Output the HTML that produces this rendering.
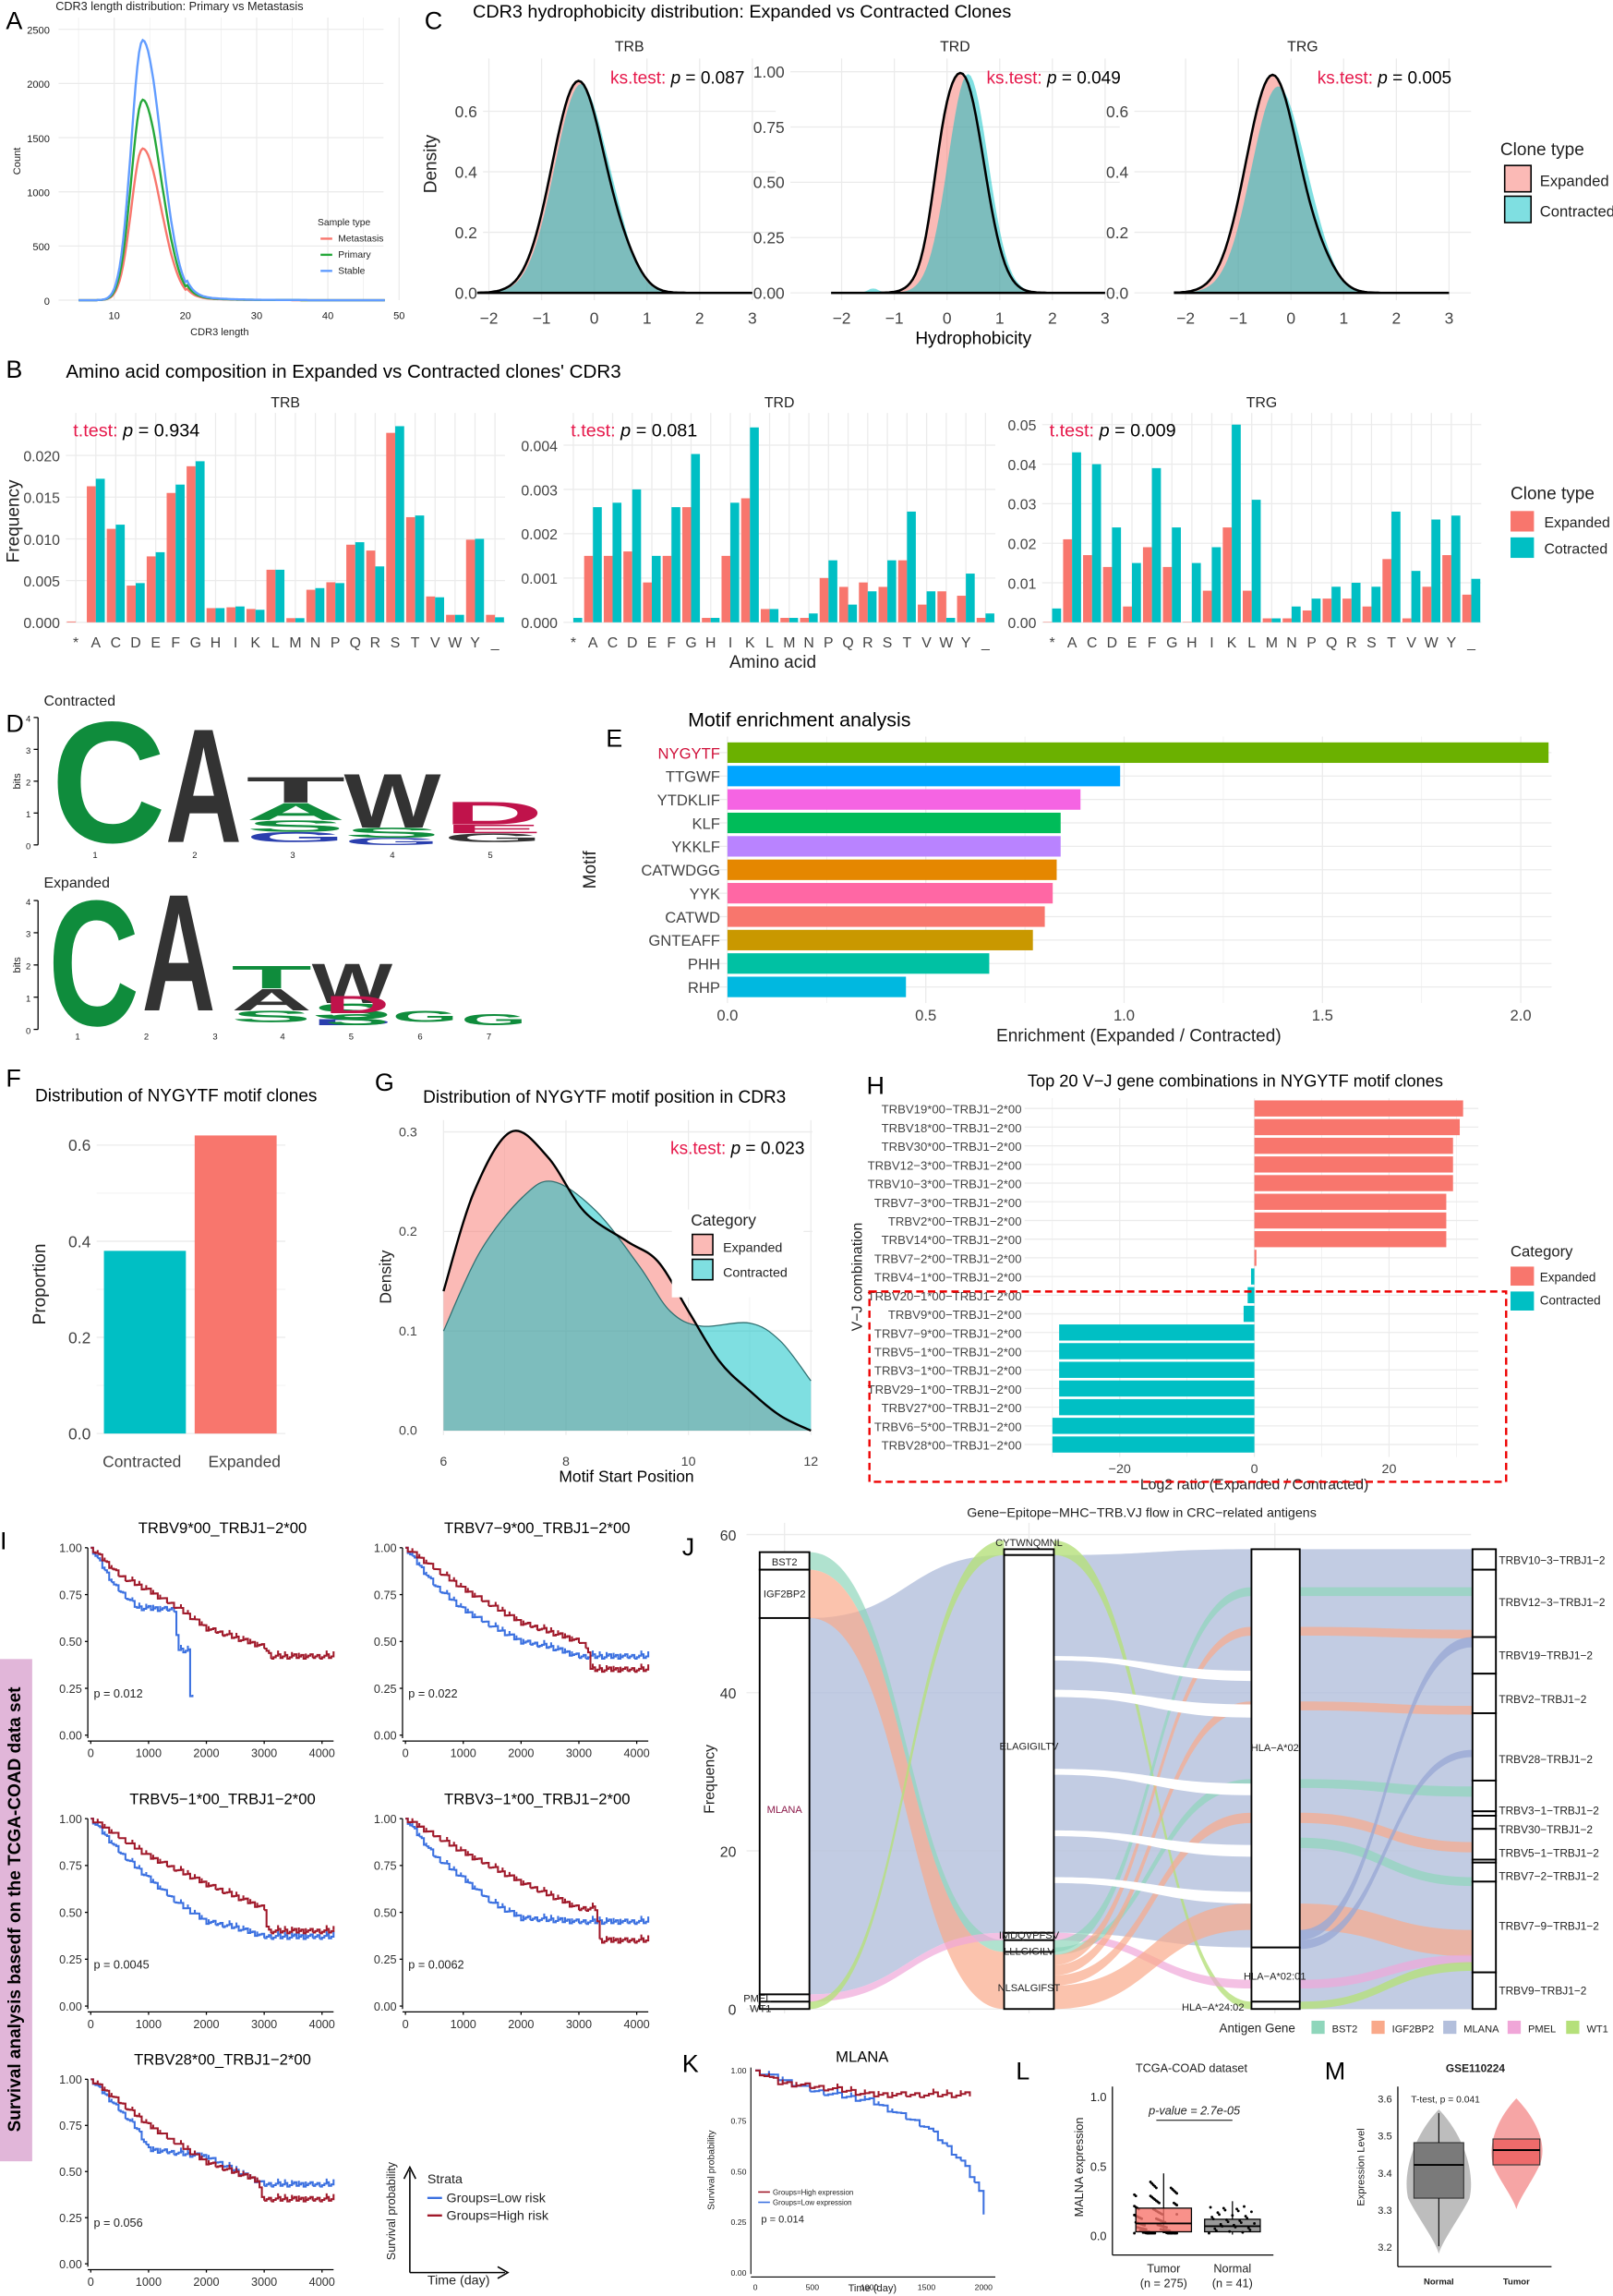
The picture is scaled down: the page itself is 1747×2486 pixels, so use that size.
<!DOCTYPE html>
<html><head><meta charset="utf-8"><style>
html,body{margin:0;padding:0;background:#fff}
svg{display:block}
text{font-family:"Liberation Sans",sans-serif}
</style></head><body>
<svg id="s" xmlns="http://www.w3.org/2000/svg" width="1747" height="2486" viewBox="0 0 1102 1568" preserveAspectRatio="none"></svg>
<script>
const NS="http://www.w3.org/2000/svg",S=document.getElementById('s');
function el(t,a,txt,par){const e=document.createElementNS(NS,t);for(const k in a)e.setAttribute(k,a[k]);if(txt!=null)e.textContent=txt;(par||S).appendChild(e);return e;}
function T(x,y,s,sz,o){o=o||{};return el('text',Object.assign({x:x,y:y,'font-size':sz,fill:o.fill||'#222','text-anchor':o.a||'start'},o.at||{}),s);}
function L(x1,y1,x2,y2,c,w,extra){return el('line',Object.assign({x1,y1,x2,y2,stroke:c||'#000','stroke-width':w||1},extra||{}));}
function R(x,y,w,h,f,extra){return el('rect',Object.assign({x,y,width:w,height:h,fill:f},extra||{}));}
function P(d,f,st,sw,extra){return el('path',Object.assign({d,fill:f||'none',stroke:st||'none','stroke-width':sw||1},extra||{}));}
function lin(v,v0,p0,v1,p1){return p0+(v-v0)*(p1-p0)/(v1-v0);}
const G='#ebebeb',RED='#F8766D',TEAL='#00BFC4';
function panel(l,x,y){T(x,y,l,17,{fill:'#000'});}

/* ---------- Panel A ---------- */
panel('A',4,20);
T(38,7,'CDR3 length distribution: Primary vs Metastasis',8);
{const X=v=>lin(v,10,78,40,224),Y=v=>lin(v,0,205,2500,20);
for(let v=0;v<=2500;v+=500){L(40,Y(v),262,Y(v),G,0.8);T(34,Y(v)+3,v,7,{a:'end'});}
for(let v=5;v<=50;v+=5)L(X(v),12,X(v),205,G,v%10?0.4:0.8);
for(let v=10;v<=50;v+=10)T(X(v),218,v,7,{a:'middle'});
T(150,229,'CDR3 length',7,{a:'middle'});
T(14,110,'Count',7,{a:'middle',at:{transform:'rotate(-90 14 110)'}});
const curve=(pk,c)=>{let d='';for(let v=5;v<=48;v+=0.25){const s=v<14?1.6:2.6;let y=pk*Math.exp(-Math.pow(v-14,2)/(2*s*s));if(v>20)y+=pk*0.02*Math.exp(-(v-20)/4);d+=(d?'L':'M')+X(v).toFixed(1)+','+Y(y).toFixed(1);}P(d,'none',c,1.5);};
curve(1400,'#F8766D');curve(1850,'#25a83a');curve(2400,'#619CFF');
T(217,154,'Sample type',6.5);
[['Metastasis','#F8766D'],['Primary','#25a83a'],['Stable','#619CFF']].forEach((a,i)=>{L(219,163+i*11,227,163+i*11,a[1],1.5);T(231,165+i*11,a[0],6.5);});
}

/* ---------- Panel C ---------- */
panel('C',290,20);
T(323,12,'CDR3 hydrophobicity distribution: Expanded vs Contracted Clones',12.5,{fill:'#000'});
function gauss(v,m,s,a){return a*Math.exp(-Math.pow(v-m,2)/(2*s*s));}
const facets=[
 {x0:330,x1:530,z:406,u:36,ymax:0.75,ys:[0,.2,.4,.6],lab:['0.0','0.2','0.4','0.6'],t:'TRB',p:'0.087',px:417,e:[[-0.3,0.5,0.7],[0.6,0.3,0.05]],c:[[-0.25,0.5,0.69],[0.5,0.25,0.05]]},
 {x0:540,x1:765,z:647,u:36,ymax:1.0,ys:[0,.25,.5,.75,1],lab:['0.00','0.25','0.50','0.75','1.00'],t:'TRD',p:'0.049',px:674,e:[[0.3,0.4,0.97],[-0.1,0.2,0.15]],c:[[0.4,0.38,0.99],[-1.4,0.1,0.02]]},
 {x0:775,x1:1005,z:882,u:36,ymax:0.75,ys:[0,.2,.4,.6],lab:['0.0','0.2','0.4','0.6'],t:'TRG',p:'0.005',px:900,e:[[-0.35,0.5,0.72],[0.6,0.3,0.05]],c:[[-0.25,0.5,0.68],[0.5,0.3,0.05]]}];
facets.forEach(f=>{
 const Y=v=>lin(v,0,200,f.ymax,f.ymax==1?49:45);
 f.ys.forEach((v,i)=>{L(f.x0,Y(v),f.x1,Y(v),G,0.8);T(f.x0-4,Y(v)+4,f.lab[i],11,{a:'end',fill:'#444'});});
 for(let v=-2;v<=3;v++){const x=f.z+v*f.u;L(x,40,x,205,G,0.8);T(x,221,v==0?'0':(v<0?'−'+(-v):v),11,{a:'middle',fill:'#444'});}
 T((f.x0+f.x1)/2,35,f.t,10,{a:'middle'});
 el('text',{x:f.px,y:57,'font-size':12},null).innerHTML='<tspan fill="#e6194b">ks.test: </tspan><tspan font-style="italic">p</tspan> = '+f.p;
 const dens=(arr,v)=>arr.reduce((s,g)=>s+gauss(v,g[0],g[1],g[2]),0);
 const path=arr=>{let d='M'+(f.z-2.2*f.u)+','+Y(0);for(let v=-2.2;v<=3.0;v+=0.05){d+='L'+(f.z+v*f.u).toFixed(1)+','+Y(dens(arr,v)).toFixed(1);}return d+'L'+(f.z+3*f.u)+','+Y(0)+'Z';};
 P(path(f.e),'#F8766D','none',1,{'fill-opacity':0.5});
 P(path(f.c),'#00BFC4','none',1,{'fill-opacity':0.5});
 P(path(f.e),'none','#000',1.6);
});
T(308,122,'Density',12,{a:'middle',at:{transform:'rotate(-90 298 122)'}});
T(665,235,'Hydrophobicity',12,{a:'middle',fill:'#000'});
T(1025,106,'Clone type',12);
R(1028,113,18,18,'#F8766D',{'fill-opacity':0.5,stroke:'#000'});T(1052,127,'Expanded',10.5);
R(1028,134,18,18,'#00BFC4',{'fill-opacity':0.5,stroke:'#000'});T(1052,148,'Contracted',10.5);

/* ---------- Panel B ---------- */
panel('B',4,258);
T(45,258,"Amino acid composition in Expanded vs Contracted clones' CDR3",13,{fill:'#000'});
const AA=['*','A','C','D','E','F','G','H','I','K','L','M','N','P','Q','R','S','T','V','W','Y','_'];
const bf=[
 {x0:45,x1:345,t:'TRB',p:'0.934',ymax:0.02,ytop:311,ys:[0,.005,.01,.015,.02],lab:['0.000','0.005','0.010','0.015','0.020'],
  r:[.0001,.0163,.0112,.0044,.0079,.0155,.0187,.0017,.0018,.0016,.0063,.0005,.0039,.0048,.0093,.0086,.0227,.0126,.0031,.0009,.0099,.0009],
  c:[0,.0172,.0117,.0047,.0084,.0165,.0193,.0017,.0019,.0015,.0063,.0005,.0041,.0047,.0096,.0067,.0235,.0128,.003,.0009,.01,.0006]},
 {x0:385,x1:680,t:'TRD',p:'0.081',ymax:0.004,ytop:304,ys:[0,.001,.002,.003,.004],lab:['0.000','0.001','0.002','0.003','0.004'],
  r:[0,.0015,.0015,.0016,.0009,.0015,.0026,.0001,.0015,.0028,.0003,.0001,.0001,.001,.0008,.0009,.0008,.0014,.0004,.0007,.0006,.0001],
  c:[.0001,.0026,.0027,.003,.0015,.0026,.0038,.0001,.0027,.0044,.0003,.0001,.0002,.0014,.0004,.0007,.0014,.0025,.0007,.0001,.0011,.0002]},
 {x0:712,x1:1012,t:'TRG',p:'0.009',ymax:0.05,ytop:290,ys:[0,.01,.02,.03,.04,.05],lab:['0.00','0.01','0.02','0.03','0.04','0.05'],
  r:[.0001,.021,.017,.014,.004,.019,.014,.0001,.008,.024,.008,.001,.001,.003,.006,.006,.004,.016,.001,.009,.017,.007],
  c:[.0035,.043,.040,.024,.015,.039,.024,.015,.019,.050,.031,.001,.004,.006,.009,.01,.009,.028,.013,.026,.027,.011]}];
bf.forEach(f=>{
 const Y=v=>lin(v,0,425,f.ymax,f.ytop);const step=(f.x1-f.x0)/22;
 f.ys.forEach((v,i)=>{L(f.x0,Y(v),f.x1,Y(v),G,0.8);T(f.x0-4,Y(v)+4,f.lab[i],10,{a:'end',fill:'#444'});});
 AA.forEach((a,i)=>{const cx=f.x0+step*(i+0.5);L(cx,282,cx,425,G,0.8);T(cx,442,a,10,{a:'middle',fill:'#444'});
  R(cx-step*0.45,Y(f.r[i]),step*0.45,425-Y(f.r[i]),RED);R(cx,Y(f.c[i]),step*0.45,425-Y(f.c[i]),TEAL);});
 T((f.x0+f.x1)/2,278,f.t,10,{a:'middle'});
 el('text',{x:f.x0+5,y:298,'font-size':12.5},null).innerHTML='<tspan fill="#e6194b">t.test: </tspan><tspan font-style="italic">p</tspan> = '+f.p;
});
T(13,356,'Frequency',12,{a:'middle',at:{transform:'rotate(-90 13 356)'}});
T(528,456,'Amino acid',12,{a:'middle'});
T(1032,341,'Clone type',12);
R(1032,349,16,14,RED);T(1055,360,'Expanded',10);
R(1032,367,16,14,TEAL);T(1055,378,'Cotracted',10);

/* ---------- Panel D (logos) ---------- */
panel('D',4,500);
T(30,482,'Contracted',10);T(30,606,'Expanded',10);
function axisLogo(y0,y1,lab){L(26,y0,26,y1,'#000',0.8);[0,1,2,3,4].forEach(i=>{const y=lin(i,0,y1,4,y0);L(23,y,26,y,'#000',0.8);T(21,y+3,i,6,{a:'end'});});T(14,(y0+y1)/2,'bits',7,{a:'middle',at:{transform:'rotate(-90 14 '+((y0+y1)/2)+')'}});}
axisLogo(490,577,0);axisLogo(615,703,0);
const CW={C:.72,A:.72,T:.61,W:.94,D:.72,S:.67,G:.78,Q:.78,N:.72,E:.67,K:.72};
function letter(ch,col,x,yb,w,h){const fs=100;const sx=w/((CW[ch]||.7)*fs),sy=h/(0.72*fs);el('text',{x:0,y:0,'font-size':fs,'font-weight':'bold',fill:col,transform:`translate(${x},${yb}) scale(${sx},${sy})`},ch);}
const GR='#0f8c3c',DK='#333',RD='#c0134b',BL='#2a3fae';
letter('C',GR,35,575,78,85);letter('A',DK,113,575,52,80);
letter('T',DK,168,548,68,18);letter('A',GR,168,560,68,12);letter('S',GR,168,568,68,8);letter('G',BL,168,575,68,7);
letter('W',DK,235,565,66,38);letter('S',GR,235,572,66,7);letter('G',BL,235,577,66,5);
letter('D',RD,303,563,68,16);letter('E',RD,303,569,68,6);letter('G',DK,303,575,68,6);
[65,133,200,268,335].forEach((x,i)=>T(x,586,i+1,6,{a:'middle'}));
letter('C',GR,33,700,62,88);letter('A',DK,97,690,50,82);
letter('T',GR,158,675,55,16);letter('A',DK,158,690,55,15);letter('S',GR,158,698,55,8);
letter('W',DK,213,685,55,28);letter('S',GR,213,696,55,11);letter('D',BL,213,700,55,4);
letter('D',RD,222,692,44,12);letter('S',GR,222,700,44,8);
letter('G',GR,268,698,45,8);letter('G',GR,315,700,45,8);
[53,100,147,193,240,287,334].forEach((x,i)=>T(x,710,i+1,6,{a:'middle'}));

/* ---------- Panel E ---------- */
panel('E',414,510);
T(470,496,'Motif enrichment analysis',13.5,{fill:'#000'});
{const X=v=>lin(v,0,497,2,1039);
 for(let v=0;v<=2.1;v+=0.25)L(X(v),503,X(v),685,G,v*4%2?0.4:0.8);
 ['0.0','0.5','1.0','1.5','2.0'].forEach((s,i)=>T(X(i*0.5),697,s,10.5,{a:'middle',fill:'#444'}));
 const bars=[['NYGYTF',2.07,'#6BB100'],['TTGWF',0.99,'#00A5FF'],['YTDKLIF',0.89,'#F564E3'],['KLF',0.84,'#00BC59'],['YKKLF',0.84,'#B983FF'],['CATWDGG',0.83,'#E58700'],['YYK',0.82,'#FF67A4'],['CATWD',0.80,'#F8766D'],['GNTEAFF',0.77,'#C99800'],['PHH',0.66,'#00C1A3'],['RHP',0.45,'#00B8E0']];
 bars.forEach((b,i)=>{const y=514+i*16;L(490,y,1060,y,G,0.8);R(497,y-7,X(b[1])-497,14,b[2]);T(492,y+4,b[0],10.5,{a:'end',fill:i==0?'#d0103a':'#444'});});
 T(778,711,'Enrichment (Expanded / Contracted)',12,{a:'middle'});
 T(407,594,'Motif',12,{a:'middle',at:{transform:'rotate(-90 407 594)'}});
}

/* ---------- Panel F ---------- */
panel('F',4,742);
T(24,752,'Distribution of NYGYTF motif clones',12,{fill:'#000'});
{const Y=v=>lin(v,0,979,0.6,782);
 [0,0.2,0.4,0.6].forEach(v=>{L(66,Y(v),195,Y(v),G,0.8);T(62,Y(v)+4,v.toFixed(1),11,{a:'end',fill:'#444'});});
 [0.1,0.3,0.5].forEach(v=>L(66,Y(v),195,Y(v),G,0.4));
 R(71,Y(0.38),56,979-Y(0.38),TEAL);R(133,Y(0.62),56,979-Y(0.62),RED);
 T(97,1002,'Contracted',11,{a:'middle',fill:'#444'});T(167,1002,'Expanded',11,{a:'middle',fill:'#444'});
 T(31,877,'Proportion',12,{a:'middle',at:{transform:'rotate(-90 31 877)'}});
}

/* ---------- Panel G ---------- */
panel('G',256,745);
T(289,753,'Distribution of NYGYTF motif position in CDR3',12,{fill:'#000'});
{const X=v=>lin(v,6,303,12,554),Y=v=>lin(v,0,977,0.3,773);
 [0,0.1,0.2,0.3].forEach(v=>{L(303,Y(v),555,Y(v),G,0.8);T(285,Y(v)+3,v.toFixed(1),9,{a:'end',fill:'#444'});});
 for(let v=6;v<=12;v++)L(X(v),765,X(v),980,G,v%2?0.4:0.8);
 [6,8,10,12].forEach(v=>T(X(v),1001,v,9,{a:'middle',fill:'#444'}));
 const ex=[[6,.14],[6.5,.24],[7.1,.3],[7.7,.275],[8.3,.22],[9,.19],[9.5,.17],[10,.12],[10.5,.07],[11,.04],[11.5,.015],[12,0]];
 const co=[[6,.1],[6.6,.18],[7.3,.235],[7.8,.25],[8.5,.22],[9.2,.165],[9.7,.12],[10.2,.105],[11,.108],[11.5,.09],[12,.05]];
 const sm=pts=>{const pp=pts.map(p=>[X(p[0]),Y(p[1])]);let d='M'+pp[0][0]+','+pp[0][1];for(let i=0;i<pp.length-1;i++){const p0=pp[Math.max(0,i-1)],p1=pp[i],p2=pp[i+1],p3=pp[Math.min(pp.length-1,i+2)];
  const c1=[p1[0]+(p2[0]-p0[0])/6,p1[1]+(p2[1]-p0[1])/6],c2=[p2[0]-(p3[0]-p1[0])/6,p2[1]-(p3[1]-p1[1])/6];d+=`C${c1[0].toFixed(1)},${c1[1].toFixed(1)} ${c2[0].toFixed(1)},${c2[1].toFixed(1)} ${p2[0].toFixed(1)},${p2[1].toFixed(1)}`;}return d;};
 P(sm(ex)+`L${X(12)},${Y(0)}L${X(6)},${Y(0)}Z`,'#F8766D','none',1,{'fill-opacity':0.5});
 P(sm(co)+`L${X(12)},${Y(0)}L${X(6)},${Y(0)}Z`,'#00BFC4','none',1,{'fill-opacity':0.5});
 P(sm(co),'none','#2f6f70',0.8);P(sm(ex),'none','#000',1.5);
 el('text',{x:458,y:788,'font-size':12},null).innerHTML='<tspan fill="#e6194b">ks.test: </tspan><tspan font-style="italic">p</tspan> = 0.023';
 R(459,826,90,60,'#fff');
 T(472,837,'Category',11);R(473,843,14,14,'#F8766D',{'fill-opacity':0.5,stroke:'#000'});T(494,855,'Expanded',9);
 R(473,860,14,14,'#00BFC4',{'fill-opacity':0.5,stroke:'#000'});T(494,872,'Contracted',9);
 T(428,1012,'Motif Start Position',11,{a:'middle',fill:'#000'});
 T(267,872,'Density',11,{a:'middle',at:{transform:'rotate(-90 267 872)'}});
}

/* ---------- Panel H ---------- */
panel('H',592,747);
T(702,742,'Top 20 V−J gene combinations in NYGYTF motif clones',11.5,{fill:'#000'});
{const X=v=>lin(v,0,857,20,949);
 const labs=['TRBV19*00−TRBJ1−2*00','TRBV18*00−TRBJ1−2*00','TRBV30*00−TRBJ1−2*00','TRBV12−3*00−TRBJ1−2*00','TRBV10−3*00−TRBJ1−2*00','TRBV7−3*00−TRBJ1−2*00','TRBV2*00−TRBJ1−2*00','TRBV14*00−TRBJ1−2*00','TRBV7−2*00−TRBJ1−2*00','TRBV4−1*00−TRBJ1−2*00','TRBV20−1*00−TRBJ1−2*00','TRBV9*00−TRBJ1−2*00','TRBV7−9*00−TRBJ1−2*00','TRBV5−1*00−TRBJ1−2*00','TRBV3−1*00−TRBJ1−2*00','TRBV29−1*00−TRBJ1−2*00','TRBV27*00−TRBJ1−2*00','TRBV6−5*00−TRBJ1−2*00','TRBV28*00−TRBJ1−2*00'];
 const vals=[31,30.5,29.5,29.5,29.5,28.5,28.5,28.5,0.3,-0.5,-1,-1.6,-29,-29,-29,-29,-29,-30,-30];
 [-20,0,20].forEach(v=>L(X(v),750,X(v),995,G,0.8));[-30,-10,10,30].forEach(v=>L(X(v),750,X(v),995,G,0.4));
 labs.forEach((l,i)=>{const y=757+i*12.75;L(700,y,1010,y,G,0.8);T(698,y+3.5,l,8.3,{a:'end',fill:'#444'});const v=vals[i];R(Math.min(X(0),X(v)),y-5.5,Math.abs(X(v)-X(0)),11,v>0?RED:TEAL);});
 [[-20,'−20'],[0,'0'],[20,'20']].forEach(a=>T(X(a[0]),1006,a[1],9,{a:'middle',fill:'#444'}));
 T(857,1017,'Log2 ratio (Expanded / Contracted)',10,{a:'middle'});
 T(589,872,'V−J combination',10,{a:'middle',at:{transform:'rotate(-90 589 872)'}});
 R(594,882,435,130,'none',{stroke:'#e00',"stroke-width":1.5,"stroke-dasharray":"5,3"});
 T(1032,858,'Category',10.5);R(1032,865,16,13,RED);T(1052,875,'Expanded',8.5);R(1032,882,16,13,TEAL);T(1052,891,'Contracted',8.5);
}

/* ---------- Panel I (KM) ---------- */
panel('I',0,1058);
R(0,1133,22,343,'#e1b6d9');
T(14,1304,'Survival analysis basedf on the TCGA-COAD data set',12,{a:'middle',fill:'#000',at:{transform:'rotate(-90 14 1304)','font-weight':'bold'}});
const KR='#a0192a',KB='#3b70e0';
function kmPath(X,Y,pts,col,cens){let d='M'+X(0)+','+Y(1);const tmax=pts[pts.length-1][0];let k=0;
 for(let t=40;t<=tmax;t+=40){let s=pts[0][1];for(let i=1;i<pts.length;i++){if(t<=pts[i][0]){const a=pts[i-1],b=pts[i];s=b[0]==a[0]?b[1]:a[1]+(b[1]-a[1])*(t-a[0])/(b[0]-a[0]);break;}}
  s+=((k*37)%7-3)*0.004;k++;
  d+=`H${X(t).toFixed(1)}V${Y(s).toFixed(1)}`;
  if(cens&&(t/40)%3==0)d+=`M${X(t)},${Y(s)-2.5}v2.5`+`M${X(t)},${Y(s)}`;}
 P(d,'none',col,1.3);}
function kmPlot(x0,xs,ytop,ybot,title,red,blue,p){
 const X=v=>lin(v,0,xs,1000,xs+39.5),Y=v=>lin(v,0,ybot,1,ytop);
 T(x0+90,ytop-10,title,10.5,{a:'middle',fill:'#000'});
 L(x0-2,ytop,x0-2,ybot+2,'#000',0.8);L(x0-2,ybot+4,X(4200),ybot+4,'#000',0.8);
 [0,.25,.5,.75,1].forEach(v=>{T(x0-6,Y(v)+3,v.toFixed(2),8,{a:'end',fill:'#333'});L(x0-4,Y(v),x0-2,Y(v),'#000',0.8);});
 [0,1000,2000,3000,4000].forEach(v=>{T(X(v),ybot+15,v,8,{a:'middle',fill:'#333'});L(X(v),ybot+4,X(v),ybot+6,'#000',0.8);});
 kmPath(X,Y,blue,KB,true);kmPath(X,Y,red,KR,true);
 T(x0+2,Y(0.2),'p = '+p,8);}
kmPlot(62,62,1057,1185,'TRBV9*00_TRBJ1−2*00',[[0,1],[500,.85],[1000,.77],[1500,.68],[2000,.57],[2500,.52],[3000,.47],[3100,.42],[4200,.42]],[[0,1],[400,.8],[800,.68],[1450,.67],[1500,.45],[1680,.45],[1700,.22],[1760,.22]],'0.012');
kmPlot(277,277,1057,1185,'TRBV7−9*00_TRBJ1−2*00',[[0,1],[1000,.78],[2000,.6],[3000,.5],[3150,.47],[3200,.35],[4200,.35]],[[0,1],[500,.8],[1000,.67],[1500,.58],[2000,.5],[2500,.47],[3000,.42],[4200,.42]],'0.022');
kmPlot(62,62,1242,1370,'TRBV5−1*00_TRBJ1−2*00',[[0,1],[1000,.8],[2000,.65],[3000,.52],[3050,.4],[4200,.4]],[[0,1],[500,.82],[1000,.68],[1500,.55],[2000,.45],[2500,.42],[3000,.37],[4200,.37]],'0.0045');
kmPlot(277,277,1242,1370,'TRBV3−1*00_TRBJ1−2*00',[[0,1],[1000,.82],[2000,.66],[3000,.52],[3300,.52],[3350,.35],[4200,.35]],[[0,1],[500,.8],[1000,.68],[1500,.55],[2000,.47],[3000,.45],[4200,.45]],'0.0062');
kmPlot(62,62,1420,1546,'TRBV28*00_TRBJ1−2*00',[[0,1],[1000,.75],[2000,.55],[2900,.45],[2950,.35],[4200,.35]],[[0,1],[800,.73],[1000,.62],[2000,.58],[3000,.43],[4200,.43]],'0.056');
L(280,1482,280,1552,'#000',1);L(280,1552,345,1552,'#000',1);P('M276,1488L280,1480L284,1488','none','#000',1);P('M340,1548L347,1552L340,1556','none','#000',1);
T(292,1491,'Strata',9);L(292,1501,302,1501,KB,1.5);T(305,1504,'Groups=Low risk',9);L(292,1513,302,1513,KR,1.5);T(305,1516,'Groups=High risk',9);
T(270,1510,'Survival probability',8,{a:'middle',at:{transform:'rotate(-90 270 1510)'}});T(292,1560,'Time (day)',9);

/* ---------- Panel J (alluvial) ---------- */
panel('J',466,1062);
T(780,1036,'Gene−Epitope−MHC−TRB.VJ flow in CRC−related antigens',9,{a:'middle'});
{const Y=v=>lin(v,0,1372,60,1048);
 [0,20,40,60].forEach(v=>{L(510,Y(v),1005,Y(v),G,0.8);T(503,Y(v)+4,v,10,{a:'end',fill:'#333'});});
 [536,703,871].forEach(x=>L(x,1040,x,1375,G,0.8));
 T(488,1215,'Frequency',10,{a:'middle',at:{transform:'rotate(-90 488 1215)'}});
 const c1=[519,553],c2=[686,720],c3=[855,888],c4=[1006,1022];
 const band=(xa,ya0,ya1,xb,yb0,yb1,col,op)=>{const m=(xa+xb)/2;P(`M${xa},${ya0}C${m},${ya0} ${m},${yb0} ${xb},${yb0}L${xb},${yb1}C${m},${yb1} ${m},${ya1} ${xa},${ya1}Z`,col,'none',1,{'fill-opacity':op||0.75});};
 const LV='#b3bfdc';
 band(c1[1],1105,1362,c2[0],1062,1320,LV,0.8);
 band(c2[1],1062,1320,c3[0],1058,1330,LV,0.8);
 band(c3[1],1058,1372,c4[0],1058,1372,LV,0.8);
 band(c1[1],1060,1072,c2[0],1325,1333,'#8fd6bb',0.7);
 band(c1[1],1072,1105,c2[0],1333,1372,'#f9a98a',0.7);
 band(c1[1],1362,1367,c2[0],1320,1325,'#f0a6d8',0.7);
 band(c1[1],1367,1372,c2[0],1052,1062,'#b5e07a',0.8);
 band(c2[1],1052,1062,c3[0],1367,1372,'#b5e07a',0.8);
 band(c2[1],1320,1325,c3[0],1352,1358,'#f0a6d8',0.7);
 band(c2[1],1325,1333,c3[0],1084,1090,'#8fd6bb',0.7);
 band(c2[1],1330,1335,c3[0],1215,1221,'#8fd6bb',0.7);
 band(c2[1],1335,1342,c3[0],1111,1117,'#f9a98a',0.7);
 band(c2[1],1342,1349,c3[0],1162,1168,'#f9a98a',0.7);
 band(c2[1],1349,1356,c3[0],1238,1245,'#f9a98a',0.7);
 band(c2[1],1356,1372,c3[0],1300,1318,'#f9a98a',0.7);
 [[1131,1134],[1154,1159],[1208,1212],[1250,1254],[1282,1286]].forEach(a=>band(c2[1],a[0],a[1],c3[0],a[0]+10,a[1]+14,'#fff',1));
 band(c3[1],1084,1090,c4[0],1084,1090,'#8fd6bb',0.7);band(c3[1],1111,1117,c4[0],1113,1119,'#f9a98a',0.7);
 band(c3[1],1162,1168,c4[0],1165,1171,'#f9a98a',0.7);band(c3[1],1215,1221,c4[0],1220,1227,'#8fd6bb',0.7);
 band(c3[1],1238,1245,c4[0],1258,1265,'#f9a98a',0.7);band(c3[1],1255,1262,c4[0],1282,1288,'#8fd6bb',0.7);
 band(c3[1],1300,1318,c4[0],1318,1336,'#f9a98a',0.7);band(c3[1],1352,1358,c4[0],1335,1341,'#f0a6d8',0.7);
 band(c3[1],1367,1372,c4[0],1340,1346,'#b5e07a',0.8);
 band(c3[1],1318,1325,c4[0],1118,1125,'#9aa9d4',0.8);band(c3[1],1325,1331,c4[0],1195,1200,'#9aa9d4',0.8);
 const col=(xs,segs)=>segs.forEach(s=>R(xs[0],s[0],xs[1]-xs[0],s[1]-s[0],'#fff',{stroke:'#000','stroke-width':1.2}));
 col(c1,[[1060,1072],[1072,1105],[1105,1362],[1362,1367],[1367,1372]]);
 col(c2,[[1058,1062],[1062,1320],[1320,1325],[1325,1333],[1333,1372]]);
 col(c3,[[1058,1330],[1330,1367],[1367,1372]]);
 const b4=[1058,1072,1118,1143,1170,1216,1237,1240,1249,1270,1272,1285,1347,1372];
 for(let i=0;i<b4.length-1;i++)R(c4[0],b4[i],c4[1]-c4[0],b4[i+1]-b4[i],'#fff',{stroke:'#000','stroke-width':1.2});
 T(536,1069,'BST2',7,{a:'middle'});T(536,1091,'IGF2BP2',7,{a:'middle'});T(536,1238,'MLANA',7,{a:'middle',fill:'#8b1a4a'});T(527,1367,'PMEL',7,{a:'end'});T(527,1374,'WT1',7,{a:'end'});
 T(703,1056,'CYTWNQMNL',7,{a:'middle'});T(703,1195,'ELAGIGILTV',7,{a:'middle'});T(703,1324,'IMDQVPFSV',7,{a:'middle'});T(703,1335,'LLLGIGILV',7,{a:'middle'});T(703,1360,'NLSALGIFST',7,{a:'middle'});
 T(871,1196,'HLA−A*02',7,{a:'middle'});T(871,1352,'HLA−A*02:01',7,{a:'middle'});T(850,1373,'HLA−A*24:02',7,{a:'end'});
 [['TRBV10−3−TRBJ1−2',1068],['TRBV12−3−TRBJ1−2',1097],['TRBV19−TRBJ1−2',1133],['TRBV2−TRBJ1−2',1163],['TRBV28−TRBJ1−2',1204],['TRBV3−1−TRBJ1−2',1239],['TRBV30−TRBJ1−2',1252],['TRBV5−1−TRBJ1−2',1268],['TRBV7−2−TRBJ1−2',1284],['TRBV7−9−TRBJ1−2',1318],['TRBV9−TRBJ1−2',1362]].forEach(a=>T(1024,a[1],a[0],7.5));
 T(833,1388,'Antigen Gene',8.5);
 [['BST2','#8fd6bb',896],['IGF2BP2','#f9a98a',937],['MLANA','#b3bfdc',986],['PMEL','#f0a6d8',1030],['WT1','#b5e07a',1070]].forEach(a=>{R(a[2],1380,9,9,a[1]);T(a[2]+14,1388,a[0],7);});
}

/* ---------- Panel K ---------- */
panel('K',466,1415);
T(589,1408,'MLANA',10.5,{a:'middle',fill:'#000'});
{const X=v=>lin(v,0,516,500,555),Y=v=>lin(v,0,1552,1,1414);
 L(513,1412,513,1553,'#000',0.7);L(513,1555,680,1555,'#000',0.7);
 [0,.25,.5,.75,1].forEach(v=>T(510,Y(v)+2,v.toFixed(2),5.5,{a:'end'}));
 [0,500,1000,1500,2000].forEach(v=>T(X(v),1564,v,5.5,{a:'middle'}));
 kmPath(X,Y,[[0,1],[500,.9],[1000,.85],[1500,.72],[1800,.55],[1950,.42],[2000,.3]],KB,true);
 kmPath(X,Y,[[0,1],[200,.94],[800,.9],[1000,.88],[1900,.88]],KR,true);
 L(518,1497,526,1497,KR,1);T(528,1499,'Groups=High expression',5);L(518,1504,526,1504,KB,1);T(528,1506,'Groups=Low expression',5);
 T(520,1518,'p = 0.014',7);T(596,1565,'Time (day)',7,{a:'middle'});
 T(488,1482,'Survival probability',6.5,{a:'middle',at:{transform:'rotate(-90 488 1482)'}});
}

/* ---------- Panel L ---------- */
panel('L',694,1420);
T(814,1415,'TCGA-COAD dataset',8,{a:'middle'});
{const Y=v=>lin(v,0,1527,1,1432);
 L(760,1425,760,1540,'#000',0.8);L(760,1540,870,1540,'#000',0.8);
 [[0,'0.0'],[.5,'0.5'],[1,'1.0']].forEach(a=>{T(756,Y(a[0])+3,a[1],8,{a:'end'});});
 T(740,1480,'MALNA expression',8,{a:'middle',at:{transform:'rotate(-90 740 1480)'}});
 L(790,1448,842,1448,'#000',0.7);T(816,1444,'p-value = 2.7e-05',8,{a:'middle',at:{'font-style':'italic'}});
 for(let i=0;i<120;i++){const x=775+((i*37)%30),y=Y(0.02+Math.pow(((i*53)%100)/100,3)*0.38);el('circle',{cx:x,cy:y,r:0.9,fill:'#000'});}
 L(795,Y(0.45),795,Y(0.02),'#000',0.8);R(776,Y(0.2),38,Y(0.03)-Y(0.2),'#F8766D',{stroke:'#000','stroke-width':0.8,'fill-opacity':0.8});L(776,Y(0.09),814,Y(0.09),'#000',1.2);
 L(842,Y(0.25),842,Y(0.01),'#000',0.8);R(823,Y(0.12),38,Y(0.03)-Y(0.12),'#999',{stroke:'#000','stroke-width':0.8});L(823,Y(0.07),861,Y(0.07),'#000',1.2);
 for(let i=0;i<30;i++){el('circle',{cx:826+((i*17)%32),cy:Y(0.02+((i*29)%100)/100*0.2),r:0.9,fill:'#000'});}
 T(795,1552,'Tumor',8,{a:'middle'});T(795,1562,'(n = 275)',8,{a:'middle'});T(842,1552,'Normal',8,{a:'middle'});T(842,1562,'(n = 41)',8,{a:'middle'});
}

/* ---------- Panel M ---------- */
panel('M',905,1420);
T(1008,1415,'GSE110224',7.5,{a:'middle',at:{'font-weight':'bold'}});
{const Y=v=>lin(v,3.2,1534,3.6,1433);
 L(955,1425,955,1548,'#000',0.8);L(955,1548,1060,1548,'#000',0.8);
 [3.2,3.3,3.4,3.5,3.6].forEach(v=>T(951,Y(v)+3,v.toFixed(1),7,{a:'end'}));
 T(932,1480,'Expression Level',7,{a:'middle',at:{transform:'rotate(-90 932 1480)'}});
 T(964,1436,'T-test, p = 0.041',6.5);
 P(`M983,${Y(3.57)}C1000,${Y(3.5)} 1008,${Y(3.4)} 1004,${Y(3.33)}C998,${Y(3.28)} 986,${Y(3.22)} 983,${Y(3.18)}C980,${Y(3.22)} 968,${Y(3.28)} 962,${Y(3.33)}C958,${Y(3.4)} 966,${Y(3.5)} 983,${Y(3.57)}Z`,'#bdbdbd','none');
 R(966,Y(3.48),34,Y(3.33)-Y(3.48),'#7a7a7a',{stroke:'#333','stroke-width':0.7});L(966,Y(3.42),1000,Y(3.42),'#000',1.2);L(983,Y(3.56),983,Y(3.48),'#000',0.7);L(983,Y(3.33),983,Y(3.2),'#000',0.7);
 P(`M1036,${Y(3.6)}C1048,${Y(3.55)} 1058,${Y(3.48)} 1052,${Y(3.42)}C1046,${Y(3.37)} 1038,${Y(3.33)} 1036,${Y(3.3)}C1034,${Y(3.33)} 1024,${Y(3.38)} 1020,${Y(3.42)}C1016,${Y(3.48)} 1024,${Y(3.55)} 1036,${Y(3.6)}Z`,'#f6a5a5','none');
 R(1020,Y(3.49),32,Y(3.42)-Y(3.49),'#ee6b6b',{stroke:'#333','stroke-width':0.7});L(1020,Y(3.46),1052,Y(3.46),'#000',1.2);
 T(983,1560,'Normal',6,{a:'middle',at:{'font-weight':'bold'}});T(1036,1560,'Tumor',6,{a:'middle',at:{'font-weight':'bold'}});
}
</script>
</body></html>
